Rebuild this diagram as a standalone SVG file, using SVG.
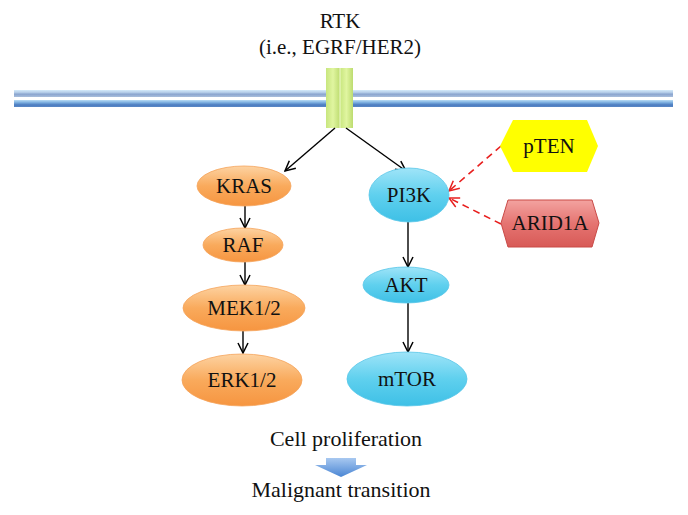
<svg xmlns="http://www.w3.org/2000/svg" width="688" height="515" viewBox="0 0 688 515">
<defs>
<linearGradient id="gOr" x1="0" y1="0" x2="0" y2="1">
<stop offset="0" stop-color="#fdd3a2"/><stop offset="0.5" stop-color="#f9aa5c"/><stop offset="1" stop-color="#f69540"/>
</linearGradient>
<linearGradient id="gBl" x1="0" y1="0" x2="0" y2="1">
<stop offset="0" stop-color="#9fe4f8"/><stop offset="0.5" stop-color="#5fd0ee"/><stop offset="1" stop-color="#3ec0e6"/>
</linearGradient>
<linearGradient id="gRed" x1="0" y1="0" x2="0" y2="1">
<stop offset="0" stop-color="#f3a3a0"/><stop offset="0.5" stop-color="#e57471"/><stop offset="1" stop-color="#d85a57"/>
</linearGradient>
<linearGradient id="gM1" x1="0" y1="0" x2="0" y2="1">
<stop offset="0" stop-color="#d4eafa"/><stop offset="0.35" stop-color="#b5cde8"/><stop offset="0.6" stop-color="#8aa5cf"/><stop offset="1" stop-color="#a9bedc"/>
</linearGradient>
<linearGradient id="gM2" x1="0" y1="0" x2="0" y2="1">
<stop offset="0" stop-color="#b8dcf5"/><stop offset="0.35" stop-color="#7eb0e0"/><stop offset="0.7" stop-color="#4b7cc0"/><stop offset="1" stop-color="#5a88c6"/>
</linearGradient>
<linearGradient id="gGr" x1="0" y1="0" x2="1" y2="0">
<stop offset="0" stop-color="#c8e67e"/><stop offset="0.5" stop-color="#e0f5a0"/><stop offset="1" stop-color="#bddc70"/>
</linearGradient>
<linearGradient id="gArr" x1="0" y1="0" x2="0" y2="1">
<stop offset="0" stop-color="#a8c8f0"/><stop offset="1" stop-color="#4a86d4"/>
</linearGradient>
<marker id="ah" viewBox="0 0 12 12" refX="11" refY="6" markerWidth="12" markerHeight="12" markerUnits="userSpaceOnUse" orient="auto">
<path d="M1,1 L11,6 L1,11" fill="none" stroke="#000" stroke-width="1.5"/>
</marker>
<marker id="ahr" viewBox="0 0 12 12" refX="11" refY="6" markerWidth="12" markerHeight="12" markerUnits="userSpaceOnUse" orient="auto">
<path d="M1,1 L11,6 L1,11" fill="none" stroke="#e8201f" stroke-width="1.5"/>
</marker>
</defs>
<style>
text{font-family:"Liberation Serif","DejaVu Serif",serif;fill:#111;text-anchor:middle}
.lbl{font-size:21px}
.big{font-size:22px}
.or{fill:url(#gOr);stroke:#f5a35a;stroke-width:0.8}
.bl{fill:url(#gBl);stroke:#58c6e8;stroke-width:0.8}
.edge{stroke:#000;stroke-width:1.4;fill:none;marker-end:url(#ah)}
.inh{stroke:#e8201f;stroke-width:1.6;fill:none;stroke-dasharray:7,5;marker-end:url(#ahr)}
</style>
<rect width="688" height="515" fill="#fff"/>
<g id="membrane">
<rect x="14" y="90" width="659" height="7" fill="url(#gM1)"/>
<rect x="14" y="100" width="659" height="7" fill="url(#gM2)"/>
</g>
<g id="rtk">
<text class="lbl" x="340" y="28">RTK</text>
<text class="lbl" x="340" y="54">(i.e., EGRF/HER2)</text>
<rect x="326" y="68" width="14" height="60" fill="url(#gGr)"/>
<rect x="340" y="68" width="13" height="60" fill="url(#gGr)"/>
<line x1="340" y1="68" x2="340" y2="128" stroke="#f0fbd0" stroke-width="1"/>
</g>
<g id="connectors">
<line class="edge" x1="335" y1="128" x2="285" y2="171"/>
<line class="edge" x1="346" y1="128" x2="406" y2="171"/>
<line class="edge" x1="245" y1="206" x2="245" y2="228"/>
<line class="edge" x1="245" y1="262" x2="245" y2="285"/>
<line class="edge" x1="243" y1="331" x2="243" y2="353"/>
<line class="edge" x1="408" y1="222" x2="408" y2="267"/>
<line class="edge" x1="408" y1="303" x2="408" y2="352"/>
<line class="inh" x1="501" y1="146" x2="449" y2="191"/>
<line class="inh" x1="501" y1="224" x2="449" y2="198"/>
</g>
<g id="kras"><ellipse class="or" cx="244" cy="186" rx="47" ry="20"/><text class="lbl" x="244" y="193">KRAS</text></g>
<g id="raf"><ellipse class="or" cx="243" cy="245" rx="40" ry="17"/><text class="lbl" x="243" y="252">RAF</text></g>
<g id="mek"><ellipse class="or" cx="244" cy="308" rx="61" ry="23"/><text class="lbl" x="244" y="315">MEK1/2</text></g>
<g id="erk"><ellipse class="or" cx="242" cy="380" rx="60" ry="26"/><text class="lbl" x="242" y="387">ERK1/2</text></g>
<g id="pi3k"><ellipse class="bl" cx="409" cy="195" rx="40" ry="27"/><text class="lbl" x="409" y="202">PI3K</text></g>
<g id="akt"><ellipse class="bl" cx="406" cy="285" rx="43" ry="18"/><text class="lbl" x="406" y="292">AKT</text></g>
<g id="mtor"><ellipse class="bl" cx="407" cy="379" rx="60" ry="27"/><text class="lbl" x="407" y="386">mTOR</text></g>
<g id="pten">
<polygon points="500,146 513,120 587,120 598,146 587,172 513,172" fill="#ffff00"/>
<text class="lbl" x="549" y="153">pTEN</text>
</g>
<g id="arid1a">
<polygon points="501,223 508,200 592,200 599,223 592,247 508,247" fill="url(#gRed)" stroke="#c94a47" stroke-width="1"/>
<text class="lbl" x="550" y="230">ARID1A</text>
</g>
<g id="outcome">
<text class="big" x="346" y="446">Cell proliferation</text>
<polygon points="326,458 356,458 356,465 367,465 341,477 315,465 326,465" fill="url(#gArr)"/>
<text class="big" x="341" y="497">Malignant transition</text>
</g>
</svg>
